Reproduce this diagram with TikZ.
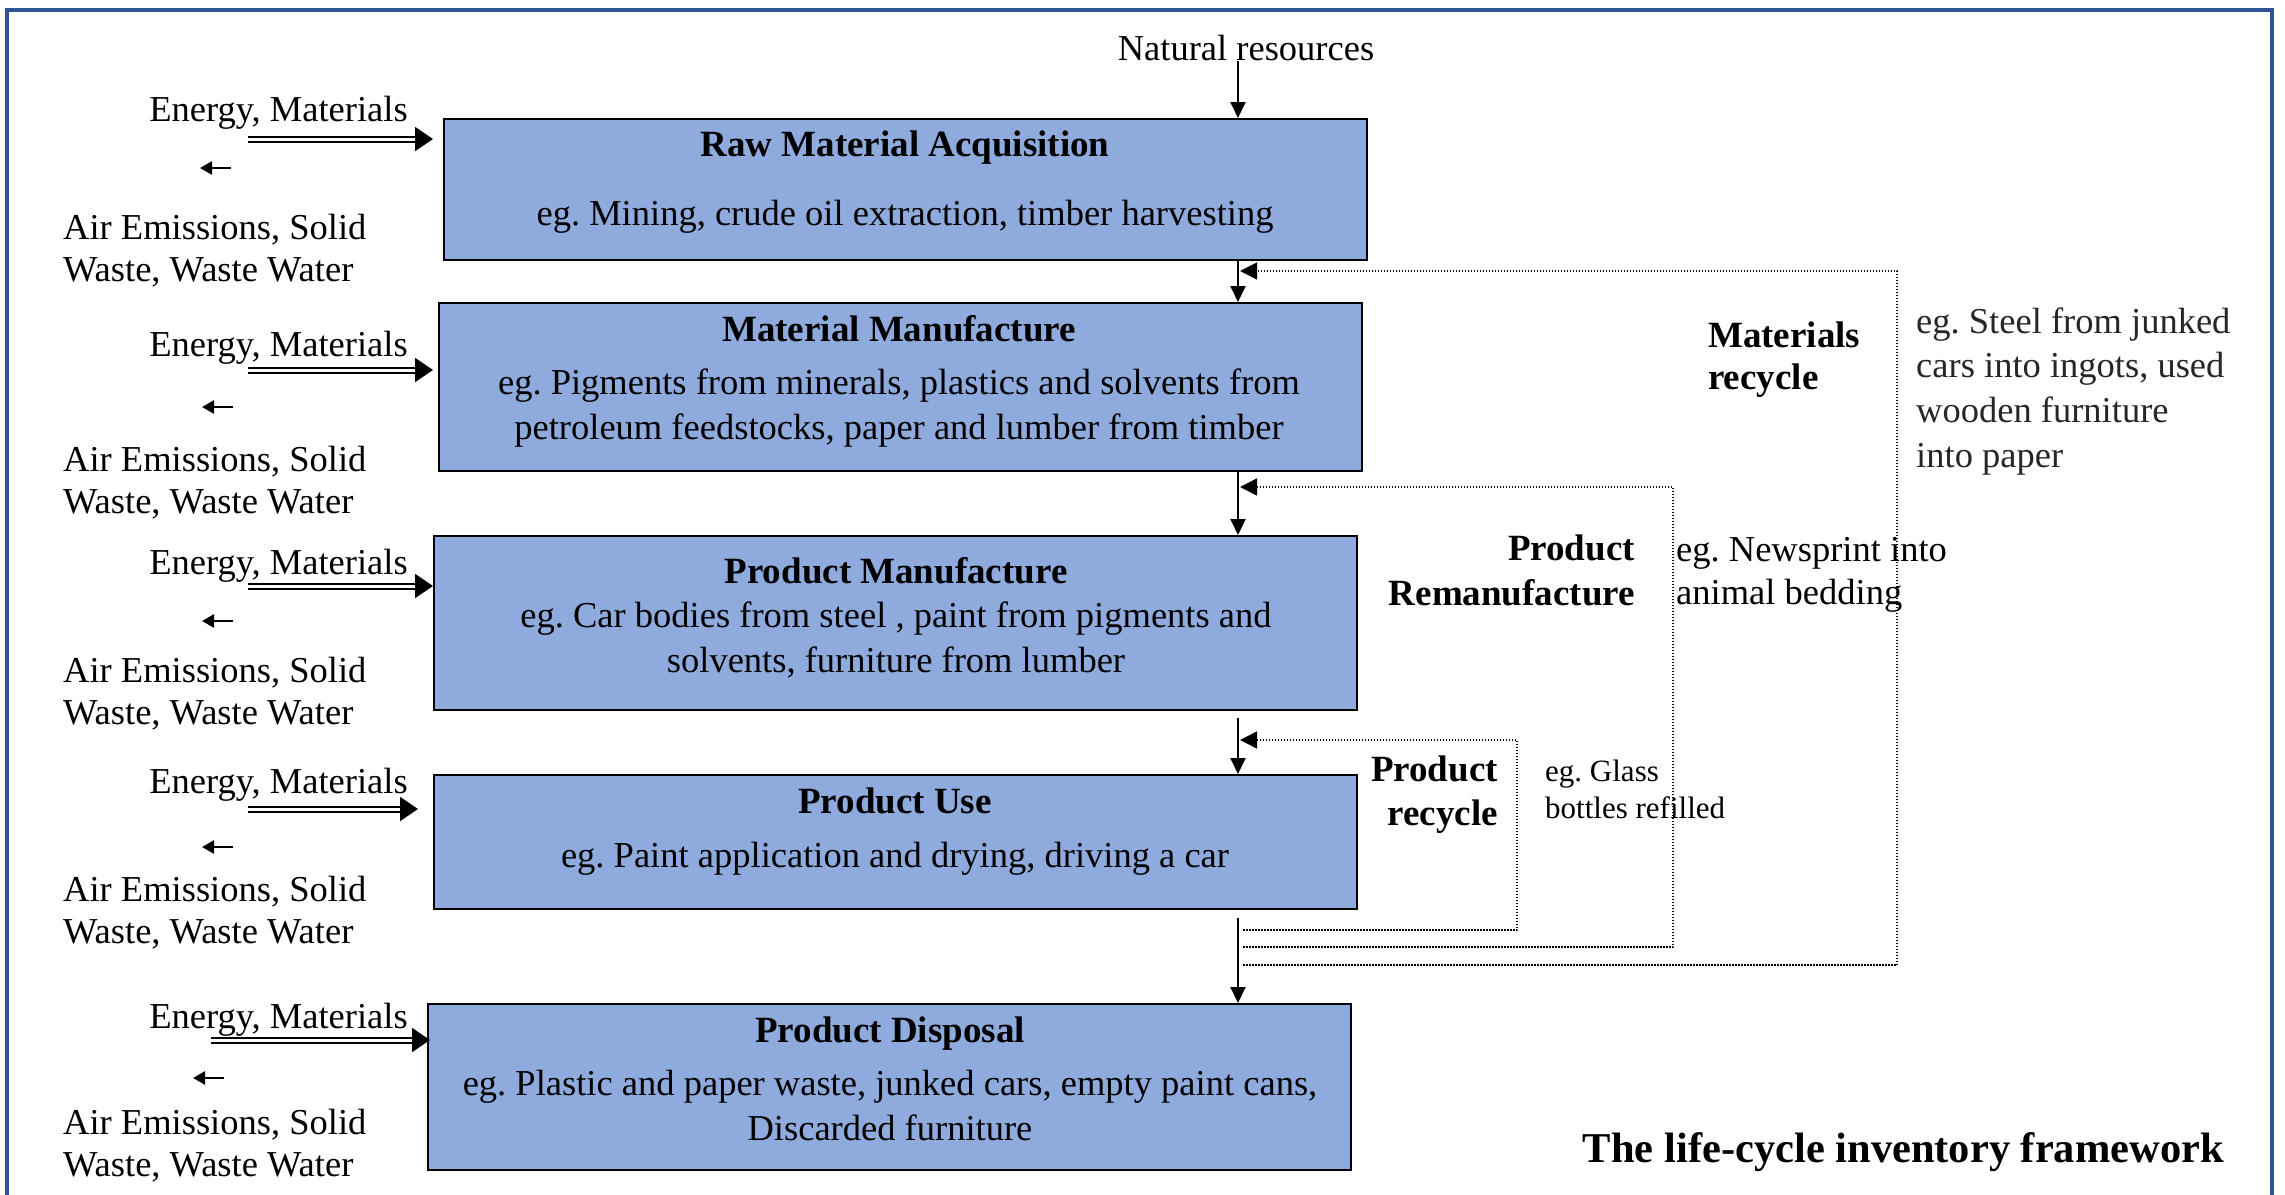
\documentclass[tikz,border=0pt]{standalone}
\usepackage{fontspec}
\setmainfont{Liberation Serif}
\usetikzlibrary{arrows.meta}
\definecolor{boxblue}{HTML}{8FAADC}
\definecolor{frameblue}{HTML}{2F5597}
\begin{document}
\frenchspacing
\begin{tikzpicture}[x=1pt,y=-1pt,
  txt/.style={inner sep=0pt, font=\fontsize{36.5}{42}\selectfont},
  btxt/.style={inner sep=0pt, font=\bfseries\fontsize{37}{44}\selectfont},
  stxt/.style={inner sep=0pt, font=\fontsize{31}{37}\selectfont},
  procbox/.style={draw=black, line width=2pt, fill=boxblue, minimum width=923pt, inner sep=0pt},
  flow/.style={line width=2pt, -{Triangle[length=16pt,width=15pt]}},
  ret/.style={line width=1.5pt, dash pattern=on 1.5pt off 1.5pt, -{Triangle[length=17pt,width=17pt]}},
  inarr/.style={line width=2pt, double=white, double distance=3pt, -{Triangle[length=18pt,width=24pt]}},
  outarr/.style={line width=2.5pt, -{Triangle[length=12pt,width=13pt]}}]
\useasboundingbox (0,0) rectangle (2285,1194);
\draw[frameblue, line width=4pt] (7,1215) -- (7,10) -- (2272,10) -- (2272,1215);

% boxes
\node[procbox, minimum height=141pt] (b1) at (905,189.5) {};
\node[procbox, minimum height=168pt] (b2) at (900.5,387) {};
\node[procbox, minimum height=174pt] (b3) at (895.5,623) {};
\node[procbox, minimum height=134pt] (b4) at (895.5,842) {};
\node[procbox, minimum height=166pt] (b5) at (889.5,1087) {};

% box texts
\node[btxt, anchor=base] (t1) at (905,156) {Raw Material Acquisition};
\node[txt, anchor=base] (d1) at (905,225) {eg. Mining, crude oil extraction, timber harvesting};
\node[btxt, anchor=base] (t2) at (899,341) {Material Manufacture};
\node[txt, anchor=base] (d2a) at (899,394) {eg. Pigments from minerals, plastics and solvents from};
\node[txt, anchor=base] (d2b) at (899,439) {petroleum feedstocks, paper and lumber from timber};
\node[btxt, anchor=base] (t3) at (896,583) {Product Manufacture};
\node[txt, anchor=base] (d3a) at (896,627) {eg. Car bodies from steel , paint from pigments and};
\node[txt, anchor=base] (d3b) at (896,672) {solvents, furniture from lumber};
\node[btxt, anchor=base] (t4) at (895,813) {Product Use};
\node[txt, anchor=base] (d4) at (895,867) {eg. Paint application and drying, driving a car};
\node[btxt, anchor=base] (t5) at (890,1042) {Product Disposal};
\node[txt, anchor=base] (d5a) at (890,1095) {eg. Plastic and paper waste, junked cars, empty paint cans,};
\node[txt, anchor=base] (d5b) at (890,1140) {Discarded furniture};

% natural resources
\node[txt, anchor=base] (nat) at (1246,60) {Natural resources};
\coordinate (vx) at (1238,0);

% left side labels
\foreach \i/\ey/\ay in {1/121/239, 2/356/471, 3/574/682, 4/793/901, 5/1028/1134}{
  \node[txt, anchor=base east] (en\i) at (408,\ey) {Energy, Materials};
  \node[txt, anchor=base west] (ae\i) at (63,\ay) {Air Emissions, Solid};
  \node[txt, anchor=base west] (ww\i) at (63,\ay+42) {Waste, Waste Water};
}

% input double arrows
\coordinate (is1) at (248,139); \coordinate (it1) at (433,139);
\coordinate (is2) at (248,370); \coordinate (it2) at (433,370);
\coordinate (is3) at (248,586); \coordinate (it3) at (433,586);
\coordinate (is4) at (248,809); \coordinate (it4) at (418,809);
\coordinate (is5) at (211,1040); \coordinate (it5) at (430,1040);
\foreach \i in {1,...,5}{\draw[inarr] (is\i) -- (it\i);}

% output small arrows
\coordinate (os1) at (231,168); \coordinate (ot1) at (200,168);
\coordinate (os2) at (233,407); \coordinate (ot2) at (202,407);
\coordinate (os3) at (233,621); \coordinate (ot3) at (202,621);
\coordinate (os4) at (233,847); \coordinate (ot4) at (202,847);
\coordinate (os5) at (224,1078); \coordinate (ot5) at (193,1078);
\foreach \i in {1,...,5}{\draw[outarr] (os\i) -- (ot\i);}

% main flow
\draw[flow] (nat.south -| vx) -- (b1.north -| vx);
\draw[flow] (b1.south -| vx) -- (b2.north -| vx);
\draw[flow] (b2.south -| vx) -- (b3.north -| vx);
\draw[flow] ([yshift=-7pt]b3.south -| vx) -- (b4.north -| vx);
\draw[flow] ([yshift=-8pt]b4.south -| vx) -- (b5.north -| vx);

% recycle loops
\coordinate (sA) at (1243,930); \coordinate (xA) at (1517,0); \coordinate (tA) at (1240,740);
\coordinate (sB) at (1243,947); \coordinate (xB) at (1673,0); \coordinate (tB) at (1240,487);
\coordinate (sC) at (1243,965); \coordinate (xC) at (1897,0); \coordinate (tC) at (1240,271);
\draw[ret] (sA) -- (sA -| xA) -- (tA -| xA) -- (tA);
\draw[ret] (sB) -- (sB -| xB) -- (tB -| xB) -- (tB);
\draw[ret, line width=1.2pt] (sC) -- (sC -| xC) -- (tC -| xC) -- (tC);

% right labels
\node[btxt, anchor=base west] (mr1) at (1708,347) {Materials};
\node[btxt, anchor=base west] (mr2) at (1708,389) {recycle};
\node[txt, anchor=base west, text=black!85] (st1) at (1916,333) {eg. Steel from junked};
\node[txt, anchor=base west, text=black!85] (st2) at (1916,377) {cars into ingots, used};
\node[txt, anchor=base west, text=black!85] (st3) at (1916,422) {wooden furniture};
\node[txt, anchor=base west, text=black!85] (st4) at (1916,467) {into paper};
\node[btxt, anchor=base east] (pr1) at (1635,560) {Product};
\node[btxt, anchor=base east] (pr2) at (1635,605) {Remanufacture};
\node[txt, anchor=base west] (np1) at (1676,561) {eg. Newsprint into};
\node[txt, anchor=base west] (np2) at (1676,604) {animal bedding};
\node[btxt, anchor=base east] (rc1) at (1498,781) {Product};
\node[btxt, anchor=base east] (rc2) at (1498,825) {recycle};
\node[stxt, anchor=base west] (gl1) at (1545,781) {eg. Glass};
\node[stxt, anchor=base west] (gl2) at (1545,818) {bottles refilled};
\node[inner sep=0pt, font=\bfseries\fontsize{42.5}{48}\selectfont, anchor=base east] (fw) at (2224,1162) {The life-cycle inventory framework};
\end{tikzpicture}
\end{document}
